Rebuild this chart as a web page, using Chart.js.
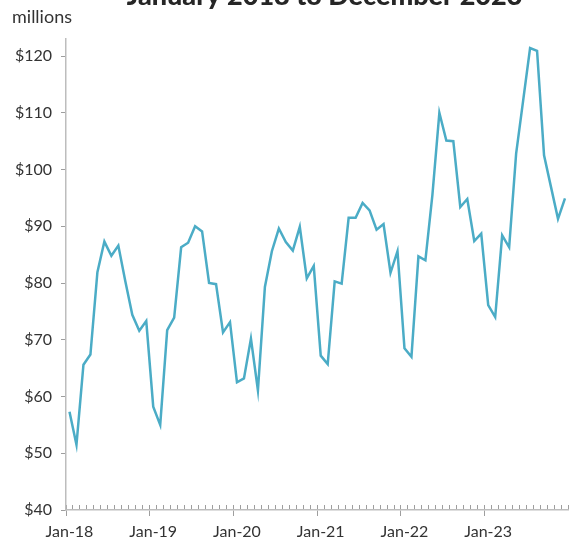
<!DOCTYPE html>
<html><head><meta charset="utf-8">
<script src="https://cdn.jsdelivr.net/npm/chart.js@4"></script>
<style>html,body{margin:0;padding:0;background:#fff}</style>
</head><body>
<canvas id="c" width="571" height="541"></canvas>
<script>
const monthNames = ['Jan','Feb','Mar','Apr','May','Jun','Jul','Aug','Sep','Oct','Nov','Dec'];
const years = ['18','19','20','21','22','23'];
const tickLabels = ['Jan-18','Jan-19','Jan-20','Jan-21','Jan-22','Jan-23'];
const yTicks = [40,50,60,70,80,90,100,110,120];

const values2018 = [57.3, 51.5, 65.6, 67.4, 81.9, 87.3, 84.8, 86.6, 80.3, 74.4, 71.6, 73.3];
const values2019 = [58.2, 55.0, 71.7, 73.9, 86.3, 87.1, 90.0, 89.1, 80.0, 79.8, 71.3, 73.1];
const values2020 = [62.5, 63.2, 70.2, 61.1, 79.3, 85.6, 89.6, 87.2, 85.7, 89.9, 80.8, 83.0];
const values2021 = [67.2, 65.7, 80.3, 79.9, 91.5, 91.5, 94.1, 92.8, 89.4, 90.4, 81.8, 85.6];
const values2022 = [68.5, 67.0, 84.7, 84.0, 95.5, 110.0, 105.1, 105.0, 93.4, 94.8, 87.4, 88.7];
const values2023 = [76.1, 74.0, 88.4, 86.3, 102.8, 112.1, 121.4, 120.9, 102.5, 96.9, 91.3, 94.9];

const categories = [];
years.forEach(y => monthNames.forEach(m => categories.push(m + '-' + y)));
const values = [].concat(values2018, values2019, values2020, values2021, values2022, values2023);

const titleText = 'January 2018 to December 2023';
const unitText = 'millions';

const textPlugin = {
  id: 'texts',
  afterDraw(chart) {
    const ctx = chart.ctx;
    ctx.save();
    ctx.fillStyle = '#262626';
    ctx.font = '900 27px Lato';
    ctx.textAlign = 'center';
    ctx.textBaseline = 'alphabetic';
    ctx.fillText(titleText, 324.5, 4.5);
    ctx.font = '18px Lato';
    ctx.textAlign = 'left';
    ctx.fillStyle = '#333333';
    ctx.fillText(unitText, 12, 23);
    ctx.restore();
  }
};

const axisGray = '#bdbdbd';
const tickGray = '#9e9e9e';

new Chart(document.getElementById('c'), {
  type: 'line',
  data: {
    labels: categories,
    datasets: [{
      data: values,
      borderColor: '#4bacc6',
      borderWidth: 2.5,
      pointRadius: 0,
      tension: 0,
      fill: false
    }]
  },
  options: {
    responsive: false,
    animation: false,
    devicePixelRatio: 1,
    layout: { padding: { top: 39, left: 0, right: 0, bottom: 0 } },
    plugins: { legend: { display: false }, tooltip: { enabled: false }, title: { display: false } },
    scales: {
      y: {
        type: 'linear',
        min: 40,
        max: 123,
        afterBuildTicks: s => { s.ticks = yTicks.map(v => ({ value: v })); },
        afterFit: s => { s.width = 66; },
        ticks: {
          callback: v => '$' + v,
          font: { family: 'Lato', size: 16 },
          color: '#333333',
          padding: 9
        },
        grid: { drawOnChartArea: false, tickLength: 5, tickColor: tickGray, tickWidth: 1 },
        border: { color: axisGray, width: 1.5 }
      },
      x2: {
        type: 'category',
        position: 'bottom',
        weight: 0,
        offset: true,
        afterFit: s => { s.height = 0; },
        ticks: { display: false, autoSkip: false },
        grid: { offset: true, drawOnChartArea: false, tickLength: -5, tickColor: tickGray, tickWidth: 1 },
        border: { display: false }
      },
      x: {
        type: 'category',
        position: 'bottom',
        weight: 1,
        offset: true,
        afterFit: s => { s.height = 31; },
        ticks: {
          autoSkip: false,
          maxRotation: 0,
          minRotation: 0,
          padding: 6,
          font: { family: 'Lato', size: 16 },
          color: '#333333',
          callback: function (val, index) {
            const lab = categories[index];
            return tickLabels.includes(lab) ? lab : '';
          }
        },
        grid: {
          offset: true,
          drawOnChartArea: false,
          tickLength: 6,
          tickWidth: 1,
          tickColor: c => (c.index % 12 === 0 ? tickGray : 'rgba(0,0,0,0)')
        },
        border: { color: axisGray, width: 1.5 }
      }
    }
  },
  plugins: [textPlugin]
});
</script>
</body></html>
